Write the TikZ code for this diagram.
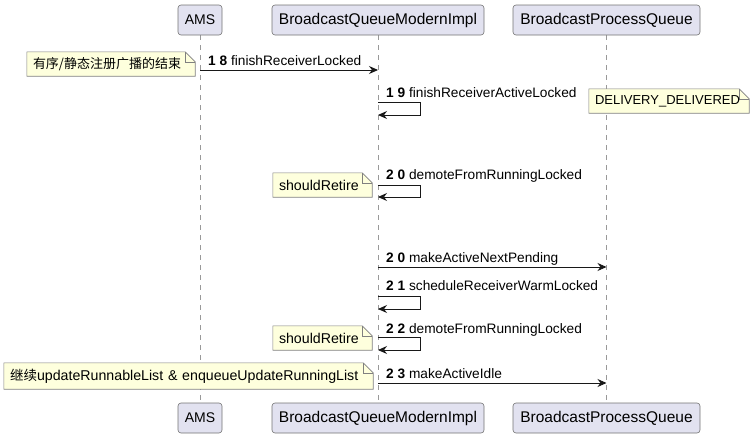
\documentclass[tikz,border=0pt]{standalone}
\usepackage{fontspec}
\setmainfont{Liberation Sans}
\newfontfamily\cjk{Noto Sans CJK SC}
\usetikzlibrary{arrows.meta,backgrounds,calc}

\definecolor{partfill}{HTML}{E2E2F0}
\definecolor{notefill}{HTML}{FEFFDD}
\definecolor{linecol}{HTML}{181818}

\tikzset{
  part/.style={draw=black!55,fill=partfill,rounded corners=3pt,line width=0.6pt,
    minimum height=30pt,inner sep=0pt,font=\fontsize{15.5}{17}\selectfont},
  lifeline/.style={draw=black!40,dash pattern=on 5pt off 5pt,line width=0.8pt},
  msg/.style={draw=linecol,line width=0.9pt,-{Stealth[length=9pt,width=8pt,inset=3pt]}},
  msglabel/.style={anchor=base west,inner sep=0pt,font=\fontsize{13.7}{15}\selectfont},
  note/.style={inner xsep=6pt,inner ysep=0pt,align=left,font=\fontsize{14.2}{15}\selectfont},
}

% note outline with folded corner
\newcommand{\notefold}[1]{%
  \begin{scope}[on background layer]
  \filldraw[fill=notefill,draw=black!50,line width=0.6pt] (#1.south west) -- (#1.north west)
    -- ([xshift=-10pt]#1.north east) -- ([yshift=-10pt]#1.north east) -- (#1.south east) -- cycle;
  \draw[black!50,line width=0.6pt] ([xshift=-10pt]#1.north east) |- ([yshift=-10pt]#1.north east);
  \end{scope}}

\begin{document}
\begin{tikzpicture}[x=1pt,y=-1pt]
\useasboundingbox (0,0) rectangle (756,439);

% participants
\node (amsT) at (200,20)[part,minimum width=44pt,font=\fontsize{14}{17}\selectfont]{AMS};
\node (bqT) at (378,20)[part,minimum width=212pt]{BroadcastQueueModernImpl};
\node (bpT) at (606.5,20)[part,minimum width=187pt]{BroadcastProcessQueue};
\node (amsB) at (200,418)[part,minimum width=44pt,font=\fontsize{14}{17}\selectfont]{AMS};
\node (bqB) at (378,418)[part,minimum width=212pt]{BroadcastQueueModernImpl};
\node (bpB) at (606.5,418)[part,minimum width=187pt]{BroadcastProcessQueue};

\begin{scope}[on background layer]
\draw[lifeline] (amsT) -- (amsB);
\draw[lifeline] (bqT) -- (bqB);
\draw[lifeline] (bpT) -- (bpB);
\end{scope}

% 18
\node (n18) at (111,64)[note,text width=156pt,minimum height=24pt]{{\cjk\fontsize{13}{15}\selectfont 有序/静态注册广播的结束}};
\notefold{n18}
\draw[msg] (amsT |- 0,70) -- (bqT |- 0,70);
\node (l18) at (208,65)[msglabel]{\textbf{1 8} finishReceiverLocked};

% 19
\node (l19) at (386,97)[msglabel]{\textbf{1 9} finishReceiverActiveLocked};
\draw[msg] (bqT |- 0,102) -- ++(42,0) |- (bqT |- 0,115);
\node (nDel) at (669,101)[note,text width=148pt,minimum height=24pt,font=\fontsize{13}{15}\selectfont]{DELIVERY\_DELIVERED};
\notefold{nDel}

% 20
\node (l20a) at (386,179)[msglabel]{\textbf{2 0} demoteFromRunningLocked};
\draw[msg] (bqT |- 0,185) -- ++(42,0) |- (bqT |- 0,197);
\node (nRet1) at (322.5,185)[note,text width=87pt,minimum height=24pt]{shouldRetire};
\notefold{nRet1}

\node (l20b) at (386,262)[msglabel]{\textbf{2 0} makeActiveNextPending};
\draw[msg] (bqT |- 0,267) -- (bpT |- 0,267);

% 21
\node (l21) at (386,290)[msglabel]{\textbf{2 1} scheduleReceiverWarmLocked};
\draw[msg] (bqT |- 0,296) -- ++(42,0) |- (bqT |- 0,309);

% 22
\node (l22) at (386,333)[msglabel]{\textbf{2 2} demoteFromRunningLocked};
\draw[msg] (bqT |- 0,337) -- ++(42,0) |- (bqT |- 0,350);
\node (nRet2) at (322.5,338)[note,text width=87pt,minimum height=24pt]{shouldRetire};
\notefold{nRet2}

% 23
\node (l23) at (386,378)[msglabel]{\textbf{2 3} makeActiveIdle};
\draw[msg] (bqT |- 0,383) -- (bpT |- 0,383);
\node (nCont) at (188.5,376)[note,text width=357pt,minimum height=26pt]{{\cjk\fontsize{13.5}{15}\selectfont 继续}updateRunnableList \& enqueueUpdateRunningList};
\notefold{nCont}
\end{tikzpicture}
\end{document}
